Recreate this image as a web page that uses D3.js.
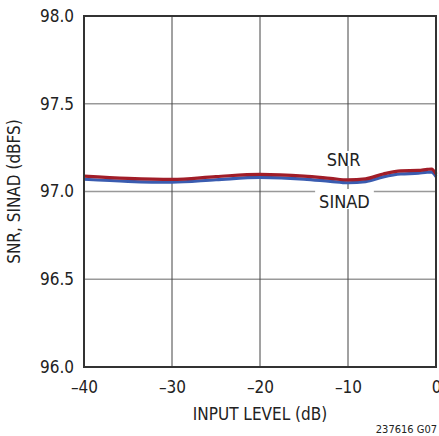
<!DOCTYPE html>
<html><head><meta charset="utf-8">
<script src="https://cdn.jsdelivr.net/npm/d3@7"></script>
<style>
body{margin:0;background:#fff;}
svg text{font-family:"Liberation Sans Narrow","Arial Narrow","DejaVu Sans Condensed",sans-serif;font-stretch:condensed;fill:#222;}
</style></head><body>
<svg id="c" width="439" height="436"></svg>
<script>
const inputLevel = [-40, -35, -30, -25, -20, -15, -12, -10, -8, -6, -4, -2, -1, -0.5, 0];
const snr   = [97.088, 97.075, 97.069, 97.085, 97.098, 97.088, 97.075, 97.066, 97.072, 97.100, 97.118, 97.120, 97.126, 97.128, 97.100];
const sinad = [97.070, 97.058, 97.053, 97.067, 97.080, 97.071, 97.058, 97.050, 97.056, 97.083, 97.100, 97.104, 97.110, 97.110, 97.085];
const xTicks = [-40, -30, -20, -10, 0];
const yTicks = [96.0, 96.5, 97.0, 97.5, 98.0];

const FONT = '"Liberation Sans Narrow","Arial Narrow","DejaVu Sans Condensed",sans-serif';
const svg = d3.select("#c");
const L = 84, R = 436, T = 16, B = 367;
const x = d3.scaleLinear().domain([-40, 0]).range([L, R]);
const y = d3.scaleLinear().domain([96, 98]).range([B, T]);

// horizontal grid
svg.append("g").selectAll("line").data(yTicks.slice(1, -1)).join("line")
  .attr("x1", L).attr("x2", R).attr("y1", d => y(d)).attr("y2", d => y(d))
  .attr("stroke", "#999").attr("stroke-width", 1.5);
// vertical grid
svg.append("g").selectAll("line").data(xTicks.slice(1, -1)).join("line")
  .attr("y1", T).attr("y2", B).attr("x1", d => x(d)).attr("x2", d => x(d))
  .attr("stroke", "#444").attr("stroke-width", 1);

// labels with white backgrounds
const lbls = [{t: "SNR", v: -10.5, yy: 166, pt: 2, pb: 4}, {t: "SINAD", v: -10.4, yy: 208, pt: -2, pb: 3}];
lbls.forEach(l => {
  const txt = svg.append("text").attr("x", x(l.v)).attr("y", l.yy)
    .attr("text-anchor", "middle").attr("font-size", 18).text(l.t);
  const bb = txt.node().getBBox();
  svg.insert("rect", "text").attr("x", bb.x - 4).attr("y", bb.y + l.pt)
    .attr("width", bb.width + 8).attr("height", bb.height - l.pt - l.pb).attr("fill", "#fff");
});

// lines
const line = d3.line().x((d, i) => x(inputLevel[i])).y(d => y(d)).curve(d3.curveMonotoneX);
svg.append("path").datum(sinad).attr("d", line).attr("fill", "none")
  .attr("stroke", "#3a5cb0").attr("stroke-width", 3.2);
svg.append("path").datum(snr).attr("d", line).attr("fill", "none")
  .attr("stroke", "#a11d28").attr("stroke-width", 3.2);

// frame
svg.append("rect").attr("x", L).attr("y", T).attr("width", R - L).attr("height", B - T)
  .attr("fill", "none").attr("stroke", "#333").attr("stroke-width", 2);

// axes tick labels
const xAxis = d3.axisBottom(x).tickValues(xTicks).tickSize(0).tickPadding(14)
  .tickFormat(d => d === 0 ? "0" : "\u2013" + Math.abs(d));
const gx = svg.append("g").attr("transform", `translate(0,${B})`).call(xAxis);
gx.select(".domain").remove();
gx.selectAll("text").attr("font-size", 17).attr("fill", "#222").style("font-family", FONT);

const yAxis = d3.axisLeft(y).tickValues(yTicks).tickSize(0).tickPadding(10)
  .tickFormat(d3.format(".1f"));
const gy = svg.append("g").attr("transform", `translate(${L},0)`).call(yAxis);
gy.select(".domain").remove();
gy.selectAll("text").attr("font-size", 17).attr("fill", "#222").style("font-family", FONT);

// titles
svg.append("text").attr("x", x(-20)).attr("y", 420).attr("text-anchor", "middle")
  .attr("font-size", 17).text("INPUT LEVEL (dB)");
svg.append("text").attr("transform", `translate(20,${y(97)}) rotate(-90)`)
  .attr("text-anchor", "middle").attr("font-size", 17).text("SNR, SINAD (dBFS)");
svg.append("text").attr("x", 437).attr("y", 433).attr("text-anchor", "end")
  .attr("font-size", 11).text("237616 G07");
</script></body></html>
